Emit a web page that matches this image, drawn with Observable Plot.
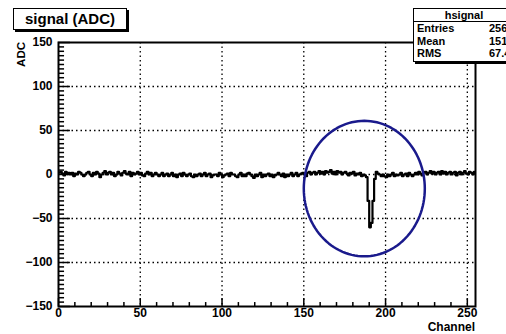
<!DOCTYPE html>
<html>
<head>
<meta charset="utf-8">
<script src="https://cdn.jsdelivr.net/npm/d3@7"></script>
<script src="https://cdn.jsdelivr.net/npm/@observablehq/plot@0.6"></script>
<style>
  html, body { margin: 0; padding: 0; background: #fff; overflow: hidden; }
  #wrap { position: relative; width: 506px; height: 334px; font-family: "Liberation Sans", Arial, sans-serif; font-weight: bold; }
  #wrap svg { position: absolute; left: 0; top: 0; }
  .title { position: absolute; left: 13px; top: 8px; width: 112px; height: 20px; border: 1px solid #000; box-shadow: 2px 2px 0 #000; background: #fff; font-size: 15px; line-height: 20px; text-align: center; }
  .stats { position: absolute; left: 413px; top: 8px; width: 100px; height: 52px; border: 1px solid #000; box-shadow: 2px 2px 0 #000; background: #fff; font-size: 11px; }
  .stats .hd { height: 12px; line-height: 12px; text-align: center; border-bottom: 1px solid #000; }
  .stats .row { position: relative; height: 12.5px; line-height: 12.5px; }
  .stats .row .k { position: absolute; left: 3px; }
  .stats .row .v { position: absolute; left: 75px; }
  .lbl { position: absolute; font-size: 11.5px; line-height: 12px; }
</style>
</head>
<body>
<div id="wrap"></div>
<script>
// ---- data ----
const title = "signal (ADC)";
const histName = "hsignal";
const statKeys = ["Entries", "Mean", "RMS"];
const statVals = ["256", "151.3", "67.43"];
const xLabel = "Channel";
const yLabel = "ADC";
const xTicks = [0, 50, 100, 150, 200, 250];
const yTicks = [-150, -100, -50, 0, 50, 100, 150];
const xGrid = [50, 100, 150, 200, 250];
const yGrid = [-100, -50, 0, 50, 100];
// ADC value per channel (256 channels)
const adc = [
  2, 3, 1, -1, 3, 1, 2, 0, 2, -2, 1, 0, 3, 2, 0, -2,
  0, 2, 3, 0, -2, 2, 0, 3, 1, -3, 0, 2, 4, 0, 2, 3,
  0, 2, -2, 0, 3, 1, -1, 2, 4, 1, 0, 3, -2, 2, 0, 1,
  3, 0, 2, -1, -2, 1, 3, 0, 2, -2, 0, 2, 0, -2, 0, 2,
  -2, 0, 1, -2, 0, 2, -2, 0, -3, 0, 1, -2, 2, 0, -2, 0,
  1, -2, -3, 0, -2, 0, 1, -2, 0, 2, -2, 0, 1, -3, -1, 0,
  0, -2, 2, 0, -3, -1, 0, 1, -2, 2, 0, 0, -2, -3, 0, 2,
  -2, 0, -2, 1, 2, 0, -2, -4, 0, -2, 0, 2, -3, 0, -2, 0,
  1, -2, 0, -3, -1, 0, 2, 0, -2, 1, -3, 0, -2, 0, 2, -2,
  0, 2, -2, 0, 1, 2, 0, -2, 2, 3, 0, 2, 3, 0, 2, 4,
  1, 3, 0, 4, 2, 3, 5, 1, 3, 0, 4, 2, 3, 0, 2, 3,
  1, -1, 2, 1, 3, -1, 1, 0, 2, -2, 0, -1, -3, -30, -60, -55,
  -30, -5, 3, 1, 0, -2, 0, -2, -3, 0, -2, 0, 2, -2, 0, -1,
  0, 2, -2, 0, 1, -2, 2, 0, -2, 0, 2, 0, 3, 1, -1, 2,
  3, 0, 2, 4, 1, 3, 0, 2, 3, 0, 4, 1, 3, 0, 2, 3,
  0, 2, 3, -1, 2, 3, 0, 2, 4, 1, 0, 3, 2, 0, 3, 2
];
// highlight ellipse (data units)
const ring = { cx: 187, cy: -16, rx: 37, ry: 77 };

// ---- derived ----
const steps = adc.map((v, i) => ({ x: i, y: v }));
steps.push({ x: adc.length, y: adc[adc.length - 1] });
const ellipse = d3.range(0, 360, 3).map(a => ({
  x: ring.cx + ring.rx * Math.cos(a * Math.PI / 180),
  y: ring.cy + ring.ry * Math.sin(a * Math.PI / 180)
}));
const xMinor = d3.range(0, 256, 10).filter(v => !xTicks.includes(v));
const yMinor = d3.range(-150, 151, 5).filter(v => !yTicks.includes(v));

const chart = Plot.plot({
  width: 506, height: 334,
  marginLeft: 58, marginRight: 31, marginTop: 42, marginBottom: 28,
  style: { fontFamily: "Liberation Sans, Arial, sans-serif", fontSize: "12px", fontWeight: "bold", background: "transparent" },
  x: { domain: [0, 255] },
  y: { domain: [-150, 150] },
  marks: [
    Plot.ruleX(xGrid, { stroke: "black", strokeDasharray: "1.5,3", strokeWidth: 1.3 }),
    Plot.ruleY(yGrid, { stroke: "black", strokeDasharray: "1.5,3", strokeWidth: 1.3 }),
    Plot.line(steps, { x: "x", y: "y", curve: "step-after", stroke: "black", strokeWidth: 2.2, clip: true }),
    Plot.line(ellipse, { x: "x", y: "y", curve: "linear-closed", stroke: "#1a1a8c", strokeWidth: 2.5 }),
    Plot.ruleY(yMinor, { x1: 0, x2: 3.7, stroke: "black", strokeWidth: 1.5 }),
    Plot.ruleY(yTicks, { x1: 0, x2: 7.3, stroke: "black", strokeWidth: 1.5 }),
    Plot.ruleX(xMinor, { y1: -150, y2: -145.5, stroke: "black", strokeWidth: 1.5 }),
    Plot.ruleX(xTicks, { y1: -150, y2: -141, stroke: "black", strokeWidth: 1.5 }),
    Plot.frame({ stroke: "black", strokeWidth: 2 }),
    Plot.axisX({ ticks: xTicks, tickSize: 0, tickPadding: 2, label: null }),
    Plot.axisY({ ticks: yTicks, tickSize: 0, tickPadding: 6, label: null })
  ]
});

const wrap = document.getElementById("wrap");
wrap.appendChild(chart);

const t = document.createElement("div");
t.className = "title";
t.textContent = title;
wrap.appendChild(t);

const s = document.createElement("div");
s.className = "stats";
let html = `<div class="hd">${histName}</div>`;
statKeys.forEach((k, i) => {
  html += `<div class="row"><span class="k">${k}</span><span class="v">${statVals[i]}</span></div>`;
});
s.innerHTML = html;
wrap.appendChild(s);

const xl = document.createElement("div");
xl.className = "lbl";
xl.textContent = xLabel;
xl.style.right = (506 - 475) + "px";
xl.style.top = "321px";
xl.style.fontSize = "12px";
wrap.appendChild(xl);

const yl = document.createElement("div");
yl.className = "lbl";
yl.textContent = yLabel;
yl.style.left = "15px";
yl.style.top = "42px";
yl.style.transformOrigin = "0 0";
yl.style.transform = "rotate(-90deg) translate(-100%, 0)";
yl.style.fontSize = "11.5px";
wrap.appendChild(yl);
</script>
</body>
</html>
